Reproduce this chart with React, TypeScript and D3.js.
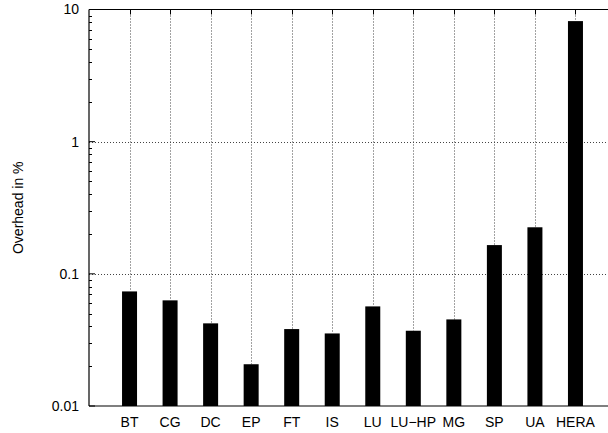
import React from "react";
import * as d3 from "d3";

const categories = ["BT", "CG", "DC", "EP", "FT", "IS", "LU", "LU\u2212HP", "MG", "SP", "UA", "HERA"];
const overhead = [0.0736, 0.063, 0.0422, 0.0207, 0.0382, 0.0354, 0.0567, 0.0371, 0.0452, 0.165, 0.225, 8.17];
const yTickValues = [0.01, 0.1, 1, 10];
const yTickLabels = ["0.01", "0.1", "1", "10"];
const yLabel = "Overhead in %";

const W = 608;
const H = 433;
const left = 89;
const top = 9.5;
const bottom = 406;

export default function App() {
  const x = d3.scaleLinear().domain([0, 13]).range([left, 616]);
  const y = d3.scaleLog().domain([0.01, 10]).range([bottom, top]);
  const barW = x(0.37) - x(0);
  const minor: number[] = [];
  for (const dec of [0.01, 0.1, 1]) {
    for (let k = 2; k <= 9; k++) minor.push(dec * k);
  }
  const font = "'Liberation Sans', Arial, Helvetica, sans-serif";
  const grid = { stroke: "#444", strokeWidth: 1, strokeDasharray: "1,2" };
  return (
    <svg width={W} height={H} style={{ position: "absolute", left: 0, top: 0, background: "#fff" }} fontFamily={font}>
      {yTickValues.slice(1, -1).map((v) => (
        <line key={"hg" + v} x1={left} x2={W} y1={Math.round(y(v)) + 0.5} y2={Math.round(y(v)) + 0.5} {...grid} />
      ))}
      {categories.map((c, i) => (
        <line key={"vg" + c} x1={Math.round(x(i + 1)) + 0.5} x2={Math.round(x(i + 1)) + 0.5} y1={top} y2={y(overhead[i])} {...grid} />
      ))}
      {categories.map((c, i) => (
        <rect key={"b" + c} x={x(i + 1) - barW / 2} width={barW} y={y(overhead[i])} height={bottom - y(overhead[i])} fill="#000" />
      ))}
      <line x1={left} x2={left} y1={top} y2={bottom} stroke="#000" strokeWidth={1.2} />
      <line x1={left} x2={W} y1={top} y2={top} stroke="#000" strokeWidth={1.2} />
      <line x1={left} x2={W} y1={bottom} y2={bottom} stroke="#000" strokeWidth={1.2} />
      {yTickValues.map((v, i) => (
        <g key={"yt" + v}>
          <line x1={left} x2={left + 6} y1={y(v)} y2={y(v)} stroke="#000" />
          <text x={79} y={y(v)} dy="0.35em" textAnchor="end" fontSize={14}>{yTickLabels[i]}</text>
        </g>
      ))}
      {minor.map((v) => (
        <line key={"ym" + v} x1={left} x2={left + 3} y1={Math.round(y(v)) + 0.5} y2={Math.round(y(v)) + 0.5} stroke="#000" />
      ))}
      {categories.map((c, i) => (
        <g key={"xt" + c}>
          <line x1={Math.round(x(i + 1)) + 0.5} x2={Math.round(x(i + 1)) + 0.5} y1={top} y2={top + 5} stroke="#000" />
          <text x={x(i + 1)} y={427} textAnchor="middle" fontSize={14}>{c}</text>
        </g>
      ))}
      <text transform={`translate(23,${(top + bottom) / 2}) rotate(-90)`} textAnchor="middle" fontSize={14}>{yLabel}</text>
    </svg>
  );
}
